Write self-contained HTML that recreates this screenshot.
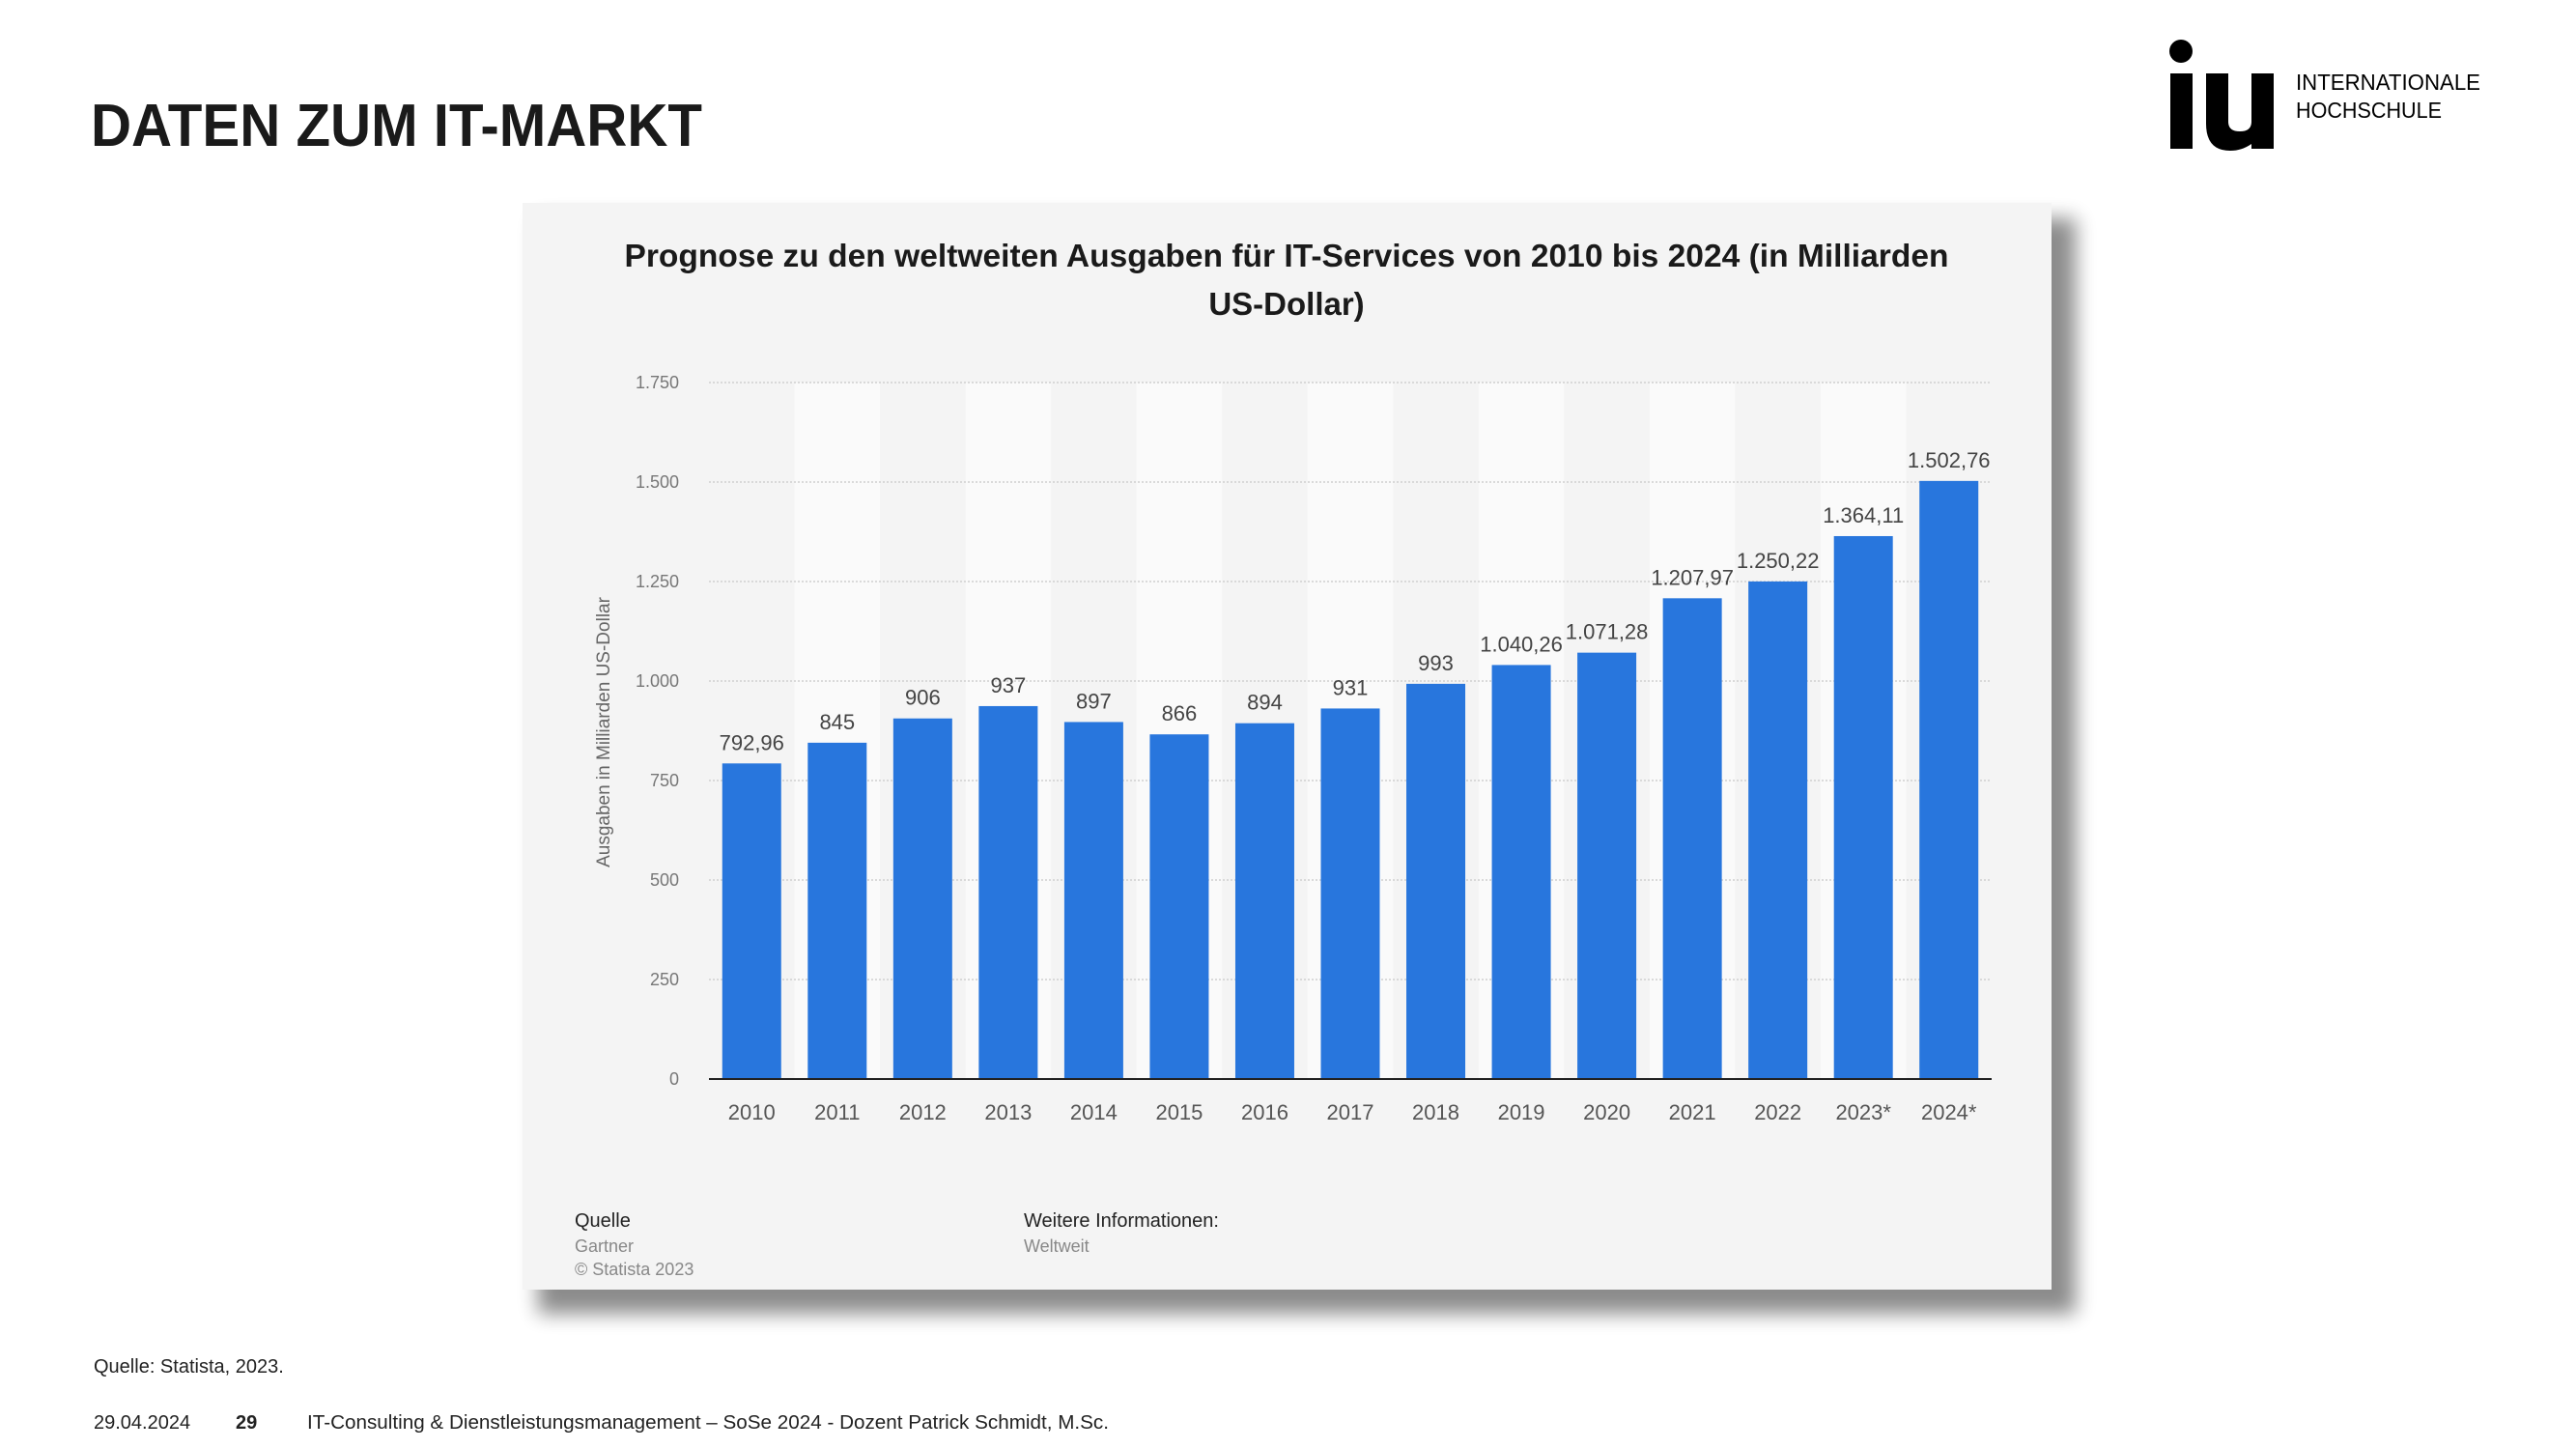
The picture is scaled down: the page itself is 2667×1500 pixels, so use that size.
<!DOCTYPE html>
<html><head><meta charset="utf-8"><style>
html,body{margin:0;padding:0;background:#fff;}
svg{display:block;}
</style></head><body>
<svg id="s" width="2667" height="1500" viewBox="0 0 2667 1500" xmlns="http://www.w3.org/2000/svg" font-family="'Liberation Sans', sans-serif">
<defs>
<filter id="sh" x="-5%" y="-5%" width="115%" height="120%"><feGaussianBlur stdDeviation="10"/></filter>
</defs>
<text x="94" y="151" font-size="62" font-weight="bold" fill="#1a1a1a" textLength="633" lengthAdjust="spacingAndGlyphs">DATEN ZUM IT-MARKT</text>
<g transform="translate(-10,0)">
<circle cx="2268" cy="53" r="12" fill="#000"/>
<rect x="2257" y="76" width="23" height="78" fill="#000"/>
<path d="M2294 76 h23 v50 q0 10 12 10 q12 0 12 -10 v-50 h23 v78 h-23 v-5 q-10 7 -22 7 q-25 0 -25 -28 z" fill="#000"/>
<text x="2387" y="93" font-size="23" fill="#000" textLength="191" lengthAdjust="spacingAndGlyphs">INTERNATIONALE</text>
<text x="2387" y="122" font-size="23" fill="#000" textLength="151" lengthAdjust="spacingAndGlyphs">HOCHSCHULE</text>
</g>
<rect x="557" y="226" width="1592" height="1134" fill="#000" opacity="0.45" filter="url(#sh)"/>
<rect x="541" y="210" width="1583" height="1125" fill="#f4f4f4"/>
<text x="1332" y="276" font-size="33" font-weight="bold" fill="#1a1a1a" text-anchor="middle" textLength="1371" lengthAdjust="spacingAndGlyphs">Prognose zu den weltweiten Ausgaben für IT-Services von 2010 bis 2024 (in Milliarden</text>
<text x="1332" y="326" font-size="33" font-weight="bold" fill="#1a1a1a" text-anchor="middle">US-Dollar)</text>
<g id="plot"></g>
<text transform="translate(631,758) rotate(-90)" font-size="19" fill="#666" text-anchor="middle">Ausgaben in Milliarden US-Dollar</text>
<text x="595" y="1270" font-size="20" fill="#222">Quelle</text>
<text x="595" y="1296" font-size="18" fill="#888">Gartner</text>
<text x="595" y="1320" font-size="18" fill="#888">© Statista 2023</text>
<text x="1060" y="1270" font-size="20" fill="#222">Weitere Informationen:</text>
<text x="1060" y="1296" font-size="18" fill="#888">Weltweit</text>
<text x="97" y="1421" font-size="20" fill="#222">Quelle: Statista, 2023.</text>
<text x="97" y="1479" font-size="20" fill="#222">29.04.2024</text>
<text x="244" y="1479" font-size="20" font-weight="bold" fill="#222">29</text>
<text x="318" y="1479" font-size="20" fill="#222" textLength="830" lengthAdjust="spacingAndGlyphs">IT-Consulting &amp; Dienstleistungsmanagement – SoSe 2024 - Dozent Patrick Schmidt, M.Sc.</text>
</svg>
<script>
const categories = ["2010","2011","2012","2013","2014","2015","2016","2017","2018","2019","2020","2021","2022","2023*","2024*"];
const values = [792.96,845,906,937,897,866,894,931,993,1040.26,1071.28,1207.97,1250.22,1364.11,1502.76];
const valueLabels = ["792,96","845","906","937","897","866","894","931","993","1.040,26","1.071,28","1.207,97","1.250,22","1.364,11","1.502,76"];
const yTicks = [0,250,500,750,1000,1250,1500,1750];
const yTickLabels = ["0","250","500","750","1.000","1.250","1.500","1.750"];

const NS = "http://www.w3.org/2000/svg";
const plot = document.getElementById('plot');
const x0 = 734, x1 = 2062, yBase = 1117, yTop = 396, yMax = 1750;
const band = (x1 - x0) / categories.length;
const barW = 61;
function yScale(v){ return yBase - v / yMax * (yBase - yTop); }
function xCenter(i){ return x0 + band * (i + 0.5); }
function mk(tag, attrs){ const e = document.createElementNS(NS, tag); for (const k in attrs) e.setAttribute(k, attrs[k]); plot.appendChild(e); return e; }

categories.forEach((c, i) => {
  if (i % 2 === 1) {
    const b = mk('rect', {x: x0 + band * i, y: yTop, width: band, height: yBase - yTop, fill: '#fafafa'});
    
    
  }
});
yTicks.forEach((t, i) => {
  if (t > 0) {
    const g = mk('line', {x1: x0, x2: x1, y1: yScale(t), y2: yScale(t), stroke: '#d0d0d0', 'stroke-width': 1.5, 'stroke-dasharray': '2,2'});
    
    
  }
  const tl = mk('text', {x: 703, y: yScale(t) + 6, 'font-size': 18, fill: '#777', 'text-anchor': 'end'});
  tl.textContent = yTickLabels[i];
  
  
});
categories.forEach((c, i) => {
  const cx = xCenter(i);
  const r = mk('rect', {x: cx - barW / 2, y: yScale(values[i]), width: barW, height: yBase - yScale(values[i]), fill: '#2876dd'});
  
  
  const vl = mk('text', {x: cx, y: yScale(values[i]) - 14, 'font-size': 22, fill: '#444', 'text-anchor': 'middle'});
  vl.textContent = valueLabels[i];
  
  
  const xl = mk('text', {x: cx, y: 1159, 'font-size': 22, fill: '#555', 'text-anchor': 'middle'});
  xl.textContent = c;
  
  
});
const ax = mk('line', {x1: x0, x2: x1, y1: yBase, y2: yBase, stroke: '#222', 'stroke-width': 2});


</script>
</body></html>
